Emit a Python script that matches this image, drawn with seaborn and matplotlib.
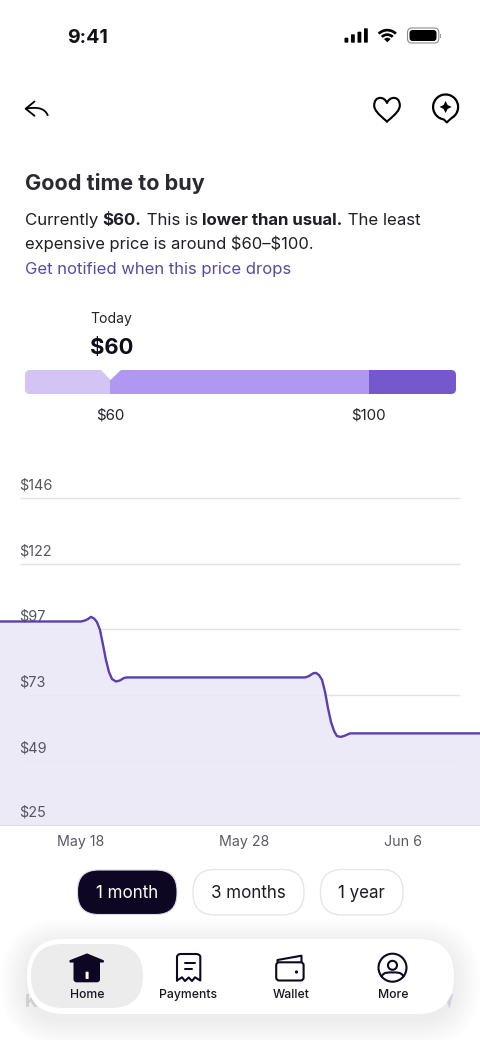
import numpy as np
import matplotlib
matplotlib.use("Agg")
import matplotlib.pyplot as plt
import seaborn as sns
from matplotlib.patches import FancyBboxPatch, Polygon, Circle, Wedge, PathPatch, Rectangle, Arc
from matplotlib.path import Path
from matplotlib.transforms import ScaledTranslation

# ---------- data ----------
days = [-4.78, 0, .24, .41, .59, .77, .94, 1.12, 1.30, 1.47, 1.65, 1.83, 2.06, 2.30, 2.54, 2.71,
        13.22, 13.45, 13.69, 13.86, 14.04, 14.22, 14.40, 14.57, 14.75, 14.93, 15.10, 15.34, 15.58, 15.87, 23.54]
prices = [100.3, 100.3, 100.7, 101.2, 102.0, 101.4, 100.1, 97.2, 91.6, 86.1, 81.6, 79.0, 78.1, 78.5, 79.4, 79.6,
          79.6, 80.1, 81.1, 81.3, 80.5, 78.7, 74.2, 68.3, 63.1, 59.8, 57.9, 57.6, 58.1, 58.9, 58.9]
y_ticks = [146, 122, 97, 73, 49, 25]
grid_values = [145.9, 121.7, 97.5, 73.2, 48.6, 25]
x_tick_pos = [0, 9.62, 19]
x_tick_labels = ["May 18", "May 28", "Jun 6"]
gauge_edges = [46.8, 60, 100, 113.5]
gauge_colors = ["#d3c4f3", "#b097f2", "#7558cb"]
gauge_ticks = [60, 100]
ranges = ["1 month", "3 months", "1 year"]
nav_items = ["Home", "Payments", "Wallet", "More"]

W, H = 480, 1040
px = lambda n: n * 0.72
sns.set_theme(style="white")
FONT = ["Inter", "DejaVu Sans"]
plt.rcParams["font.family"] = FONT
plt.rcParams["text.parse_math"] = False
fig = plt.figure(figsize=(4.8, 10.4), dpi=100, facecolor="white")

def axes_px(x0, y0, x1, y1, **kw):
    return fig.add_axes([x0 / W, 1 - y1 / H, (x1 - x0) / W, (y1 - y0) / H], **kw)

# ---------- price chart ----------
ax = axes_px(0, 465, 480, 825, zorder=1)
ax.set_xlim(days[0], days[-1])
ax.set_ylim(25, 158.2)
ax.hlines(grid_values[:-1], -3.6, 22.35, color="#e2e2e6", lw=1, zorder=1)
ax.fill_between(days, prices, 25, color="#ebe8f6", alpha=0.88, lw=0, zorder=3)
sns.lineplot(x=days, y=prices, ax=ax, color="#5a3fb0", lw=1.7, zorder=4, estimator=None, sort=False)
ax.set_xlabel("")
ax.set_ylabel("")
ax.set_xticks(x_tick_pos, x_tick_labels)
ax.set_yticks(grid_values, [f"${v}" for v in y_ticks])
ax.tick_params(axis="x", length=0, pad=7.5, labelsize=px(14.2), labelcolor="#5a5a62")
ax.tick_params(axis="y", length=0, pad=-13.8, labelsize=px(14.4), labelcolor="#55555e")
off = ScaledTranslation(0, 14 / 100, fig.dpi_scale_trans)
for lab in ax.get_yticklabels():
    lab.set_ha("left")
    lab.set_transform(lab.get_transform() + off)
ax.xaxis.set_zorder(3.5)
ax.yaxis.set_zorder(3.5)
for name, s in ax.spines.items():
    s.set_visible(name == "bottom")
ax.spines["bottom"].set_color("#dcdce2")
ax.spines["bottom"].set_linewidth(0.8)
ax.patch.set_visible(False)

# ---------- gauge ----------
gx = axes_px(25, 370, 456, 394, zorder=1)
gx.set_xlim(gauge_edges[0], gauge_edges[-1])
gx.set_ylim(0, 1)
bars = []
for a, b, c in zip(gauge_edges[:-1], gauge_edges[1:], gauge_colors):
    bars.extend(gx.barh(0.5, b - a, left=a, height=1, color=c, lw=0))
gx.set_xticks(gauge_ticks, [f"${t}" for t in gauge_ticks])
gx.set_yticks([])
gx.tick_params(axis="x", length=0, pad=10.3, labelsize=px(15), labelcolor="#222228")
for s in gx.spines.values():
    s.set_visible(False)
gx.patch.set_visible(False)

# ---------- screen furniture, in pixel coordinates ----------
ui = fig.add_axes([0, 0, 1, 1], zorder=5)
ui.set_xlim(0, W)
ui.set_ylim(H, 0)
ui.axis("off")
ui.patch.set_visible(False)
DARK = "#0d0724"

clip = FancyBboxPatch((25, 370), 431, 24, boxstyle="round,pad=0,rounding_size=5", transform=ui.transData)
for b in bars:
    b.set_clip_path(clip)

def rrect(x0, y0, x1, y1, r, fc="none", ec="none", lw=0, z=2, alpha=None):
    p = FancyBboxPatch((x0, y0), x1 - x0, y1 - y0, boxstyle=f"round,pad=0,rounding_size={r}",
                       fc=fc, ec=ec, lw=lw, zorder=z, alpha=alpha)
    ui.add_patch(p)
    return p

def label(x, y, s, size, color="#1e1e24", weight="normal", ha="left", z=6):
    return ui.text(x, y, s, fontsize=px(size), color=color, fontweight=weight, ha=ha, va="baseline", zorder=z)

def stroke(verts, codes=None, lw=1.4, color="black", fc="none", z=6):
    ui.add_patch(PathPatch(Path(verts, codes), fc=fc, ec=color, lw=lw, zorder=z,
                           capstyle="round", joinstyle="round"))

def runs(x, y, parts, size, color="#1e1e24"):
    rend = fig.canvas.get_renderer()
    for s, w in parts:
        t = label(x, y, s.replace(" ", "\u00a0"), size, color, w)
        x += t.get_window_extent(rend).width

# gauge notch
ui.add_patch(Polygon([[100.7, 369.5], [121.5, 369.5], [110.5, 380]], fc="white", ec="none", zorder=3))

# status bar
label(87.5, 42.7, "9:41", 19.6, "#111116", "bold", "center")
for x, top in zip([344.5, 351, 357.5, 364], [37.7, 34.3, 31.7, 28.3]):
    rrect(x, top, x + 3.8, 42.7, 0.8, fc="black", z=6)
for r, w in [(13.5, 2.7), (9, 2.7), (4.6, 4.6)]:
    ui.add_patch(Wedge((387.3, 42.3), r, -135, -45, width=w, fc="black", ec="none", zorder=6))
rrect(407.5, 28, 438.8, 43, 4.5, ec="#8c8c8c", lw=0.8, z=6)
rrect(409.5, 30, 436.5, 41, 3, fc="black", z=6)
ui.add_patch(Rectangle((439.6, 33.5), 1.2, 4.5, fc="#9a9a9a", ec="none", zorder=6))

# header icons
M, C, L = Path.MOVETO, Path.CURVE4, Path.LINETO
stroke([(34.5, 101.5), (25.7, 108.7), (34.5, 115.8)], [M, L, L], lw=1.3)
stroke([(25.7, 108.7), (38, 106.5), (45, 108.5), (47.7, 115.3)], [M, C, C, C], lw=1.3)
stroke([(387, 121.5), (378, 114), (374.2, 110), (374.2, 105.5), (374.2, 95.5), (384.5, 96), (387, 103),
        (389.5, 96), (399.8, 95.5), (399.8, 105.5), (399.8, 110), (396, 114), (387, 121.5)],
       [M, C, C, C, C, C, C, C, C, C, C, C, C], lw=1.5)
ui.add_patch(Arc((445.6, 107), 25, 25, theta1=112, theta2=58, ec="black", lw=1.6, zorder=6))
stroke([(440.9, 118.6), (444, 119.6), (446.8, 122.4), (450, 119.4), (452.2, 117.6)], [M, L, L, L, L], lw=1.5)
ui.add_patch(Polygon([(445.6, 101), (447.6, 105), (451.6, 107), (447.6, 109), (445.6, 113), (443.6, 109),
                      (439.6, 107), (443.6, 105)], fc="black", ec="none", zorder=6))

# copy
label(24.6, 190, "Good time to buy", 21.6, "#2a2a30", "bold")
runs(24.6, 225, [("Currently ", "normal"), ("$60.", "bold"), (" This is ", "normal"),
                 ("lower than usual.", "bold"), (" The least", "normal")], 16.85)
label(24.6, 249.3, "expensive price is around $60\u2013$100.", 16.6)
label(24.6, 274, "Get notified when this price drops", 16.65, "#5a4a9e")
label(90, 322.7, "Today", 14, "#24242a")
label(90, 353.6, "$60", 22, "#0f0c1c", "bold")

# range pills
rrect(77.5, 870, 177, 914.5, 21, fc=DARK, ec="#dcdae6", lw=0.8)
rrect(193, 869.5, 304, 915, 22, fc="white", ec="#e6e6e8", lw=1)
rrect(320.5, 869.5, 403, 915, 22, fc="white", ec="#e6e6e8", lw=1)
for x, s, c in zip([126.7, 248.5, 361.7], ranges, ["white", "#1c1c22", "#1c1c22"]):
    label(x, 898, s, 17, c, "normal", "center")

# nav: ghost content, shadow, pill
label(25, 1007, "K", 18, "#e0e0e4", "bold", z=1)
ui.add_patch(Polygon([(453, 994), (449.5, 1009), (447, 1002), (439, 1001)], fc="#e4e2ee", ec="none", zorder=1))
for g in np.arange(26, 0, -3):
    rrect(27 - g, 939 - g + 6, 454 + g, 1014 + g + 6, 37 + g, fc="black", alpha=0.0065, z=1.5)
rrect(27, 939, 454, 1014, 37, fc="white", z=2)
rrect(31, 944, 143, 1008, 32, fc="#ececec", z=3)
for x, s, w in zip([87, 188.5, 291, 393], nav_items, ["medium", "medium", "medium", "medium"]):
    label(x, 998, s, 12.2, "#17171f", w, "center")

# home
ui.add_patch(Polygon([(87, 954), (103.3, 960.7), (103.3, 962), (70, 962), (70, 960.7)], fc=DARK, ec=DARK, lw=0.8, zorder=6))
rrect(73.5, 960, 100, 982.3, 3, fc=DARK, z=6)
rrect(85.6, 971.7, 88.6, 979, 0.6, fc="white", z=7)
# payments
stroke([(177, 980.5), (177, 957), (177, 955), (179, 954), (181, 954), (196, 954), (198, 954), (200.3, 955), (200.3, 957),
        (200.3, 980.5), (195, 977.3), (192, 981), (188.7, 977.5), (185, 981), (182, 977.3), (177, 980.5)],
       [M, L, C, C, C, L, C, C, C, L, L, L, L, L, L, L], lw=1.5, color=DARK)
stroke([(185, 963.3), (195, 963.3)], [M, L], lw=1.45, color=DARK)
stroke([(185, 969.3), (191.8, 969.3)], [M, L], lw=1.45, color=DARK)
# wallet
rrect(276.2, 962.3, 303.6, 980.5, 3, ec=DARK, lw=1.5, z=6)
stroke([(277.5, 962), (277.5, 960), (301.5, 955.7), (301.5, 962)], [M, L, L, L], lw=1.5, color=DARK)
ui.add_patch(Circle((296.5, 972), 1.6, fc=DARK, ec="none", zorder=7))
# profile
ui.add_patch(Circle((392.5, 967.7), 14, fc="none", ec=DARK, lw=1.5, zorder=6))
ui.add_patch(Circle((392.5, 965.3), 4.5, fc="none", ec=DARK, lw=1.5, zorder=6))
stroke([(381.5, 976.5), (384, 971.5), (389, 972.5), (392.5, 972.5), (396, 972.5), (401, 971.5), (403.5, 976.5)],
       [M, C, C, C, C, C, C], lw=1.5, color=DARK)

fig.savefig("out.png", dpi=100, facecolor="white")
